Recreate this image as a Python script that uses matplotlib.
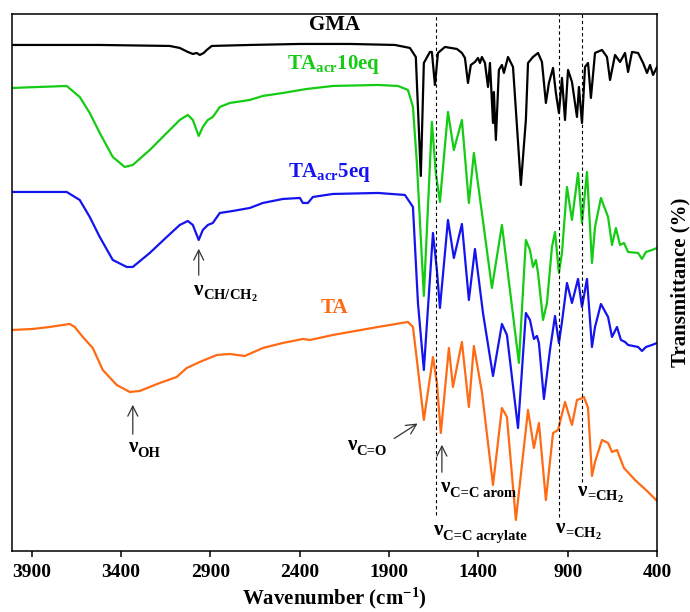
"""FTIR spectra of GMA, TA and the acrylated TA (5 and 10 eq), stacked with offsets."""
import matplotlib
matplotlib.use("Agg")
import matplotlib.pyplot as plt

plt.rcParams.update({
    "font.family": ["Liberation Serif", "DejaVu Serif"],
    "font.weight": "bold",
    "axes.labelweight": "bold",
    "mathtext.fontset": "custom",
    "mathtext.rm": "Liberation Serif:bold",
    "mathtext.it": "Liberation Serif:bold",
    "mathtext.bf": "Liberation Serif:bold",
    "axes.linewidth": 1.1,
})

# wavenumber (cm-1) / transmittance (offset, a.u.)
gma_wn = [4010, 3519, 3127, 3071, 3026, 2998, 2976, 2959, 2937, 2920, 2892, 2679, 2399, 2119,
          1867, 1783, 1750, 1722, 1705, 1671, 1660, 1643, 1626, 1587, 1520, 1492, 1475, 1458,
          1442, 1419, 1402, 1391, 1380, 1363, 1346, 1335, 1318, 1313, 1302, 1285, 1268, 1257,
          1234, 1206, 1162, 1134, 1122, 1094, 1066, 1044, 1022, 1005, 982, 966, 949, 932, 915,
          898, 876, 848, 837, 820, 803, 786, 770, 747, 708, 680, 663, 635, 607, 579, 562, 540,
          506, 478, 456, 439, 422, 400]
gma_t = [506, 506, 505, 503, 499, 497, 498, 496, 498, 501, 505, 506, 507, 507,
         506, 503, 494, 375, 488, 499, 499, 466, 498, 504, 502, 498, 493, 468,
         486, 489, 493, 488, 494, 488, 464, 488, 428, 459, 411, 481, 486, 478,
         494, 484, 366, 431, 488, 494, 498, 489, 448, 468, 483, 458, 438, 473, 431,
         481, 469, 434, 464, 428, 484, 488, 453, 498, 501, 494, 471, 496, 489, 498, 479, 499,
         498, 488, 478, 486, 476, 484]

acr10_wn = [4010, 3704, 3631, 3575, 3519, 3446, 3379, 3334, 3239, 3144, 3071, 3026, 2998, 2965,
            2942, 2914, 2886, 2847, 2791, 2679, 2606, 2494, 2360, 2214, 1962, 1850, 1794, 1766,
            1744, 1705, 1660, 1638, 1615, 1570, 1537, 1492, 1453, 1425, 1380, 1324, 1268, 1173,
            1134, 1111, 1094, 1078, 1066, 1038, 1016, 988, 971, 949, 932, 904, 876, 842, 820,
            792, 764, 747, 714, 674, 652, 630, 607, 585, 562, 506, 484, 462, 428, 400]
acr10_t = [463, 465, 454, 438, 418, 394, 384, 386, 401, 418, 431, 436, 431, 415,
           424, 431, 434, 444, 448, 451, 455, 458, 462, 465, 466, 465, 461, 444,
           388, 255, 429, 378, 349, 439, 401, 431, 348, 398, 338, 263, 326, 188,
           311, 301, 284, 291, 278, 231, 248, 304, 319, 278, 298, 364, 331, 378, 328,
           379, 288, 324, 353, 334, 306, 323, 306, 308, 299, 298, 292, 299, 301, 303]

acr5_wn = [4010, 3704, 3631, 3575, 3519, 3446, 3368, 3334, 3239, 3144, 3071, 3026, 2998, 2965,
           2942, 2914, 2886, 2847, 2774, 2679, 2606, 2494, 2399, 2382, 2354, 2326, 2214, 1962,
           1811, 1766, 1738, 1705, 1654, 1632, 1615, 1570, 1537, 1492, 1453, 1419, 1374, 1318,
           1268, 1240, 1178, 1134, 1111, 1089, 1072, 1061, 1033, 999, 971, 949, 932, 904, 876,
           842, 820, 792, 764, 747, 714, 674, 652, 624, 602, 579, 562, 506, 484, 462, 428, 400]
acr5_t = [359, 359, 351, 334, 314, 291, 284, 284, 298, 314, 326, 330, 326, 311,
          321, 326, 328, 338, 340, 343, 348, 352, 353, 348, 348, 354, 357, 358,
          356, 344, 248, 181, 318, 281, 243, 331, 293, 327, 251, 302, 238, 175,
          227, 216, 123, 238, 231, 212, 215, 208, 152, 201, 235, 208, 229, 268, 248,
          272, 244, 272, 204, 224, 247, 234, 214, 224, 211, 209, 206, 204, 200, 204, 206, 208]

ta_wn = [4010, 3894, 3799, 3687, 3659, 3614, 3558, 3502, 3424, 3351, 3295, 3183, 3088, 3032,
         2959, 2864, 2791, 2707, 2606, 2494, 2382, 2343, 2214, 1962, 1794, 1766, 1744, 1705,
         1654, 1632, 1610, 1565, 1542, 1492, 1453, 1425, 1380, 1318, 1268, 1240, 1190, 1122,
         1089, 1061, 1022, 982, 954, 915, 876, 848, 831, 809, 786, 764, 747, 708, 674, 652,
         624, 585, 523, 450, 400]
ta_t = [221, 222, 224, 227, 224, 214, 203, 181, 166, 159, 160, 168, 174, 183,
        189, 196, 197, 195, 203, 208, 212, 211, 216, 224, 229, 224, 191, 131,
        194, 168, 118, 203, 164, 209, 144, 205, 159, 66, 143, 134, 31, 141,
        103, 128, 51, 118, 121, 149, 126, 151, 152, 154, 143, 75, 89, 111, 108, 99,
        101, 83, 71, 59, 50]

series = [
    (gma_wn, gma_t, "black", "GMA", 2203, 526),
    (acr10_wn, acr10_t, "#14cc14", r"$TA_{acr}10eq$", 2209, 486),
    (acr5_wn, acr5_t, "#1414ee", r"$TA_{acr}5eq$", 2231, 378),
    (ta_wn, ta_t, "#ff6a14", "TA", 2203, 243),
]

# band assignments: (subscript, wavenumber of the nu, baseline height)
bands = [
    ("CH/CH$_2$", 2998, 256),
    ("OH", 3362, 99),
    ("C=O", 2136, 101),
    ("C=C arom", 1615, 59),
    ("C=C acrylate", 1654, 16),
    ("=CH$_2$", 971, 18),
    ("=CH$_2$", 848, 55),
]

# reference bands: (wavenumber, lower end of the dashed guide)
guides = [(1637, 36), (948, 34), (820, 69)]

fig = plt.figure(figsize=(6.9, 6.12), dpi=100)
ax = fig.add_axes([0.0174, 0.0997, 0.9348, 0.8775])

for wn, t, c, name, lx, ly in series:
    ax.plot(wn, t, color=c, lw=1.6, solid_joinstyle="round")
    ax.text(lx, ly, name, color=c, fontsize=15, fontweight="bold", ha="center", va="center")

for wn, ymin in guides:
    ax.plot([wn, wn], [ymin, 537], color="black", lw=0.8, ls=(0, (3, 2.5)))

arrow = dict(arrowstyle="->", color="#333333", lw=0.9, mutation_scale=18)
ax.annotate("", xy=(2965, 305), xytext=(2965, 273), arrowprops=arrow)
ax.annotate("", xy=(3334, 149), xytext=(3334, 114), arrowprops=arrow)
ax.annotate("", xy=(1727, 129), xytext=(1884, 111), arrowprops=arrow)
ax.annotate("", xy=(1604, 109), xytext=(1604, 76), arrowprops=arrow)

for sub, wn, base in bands:
    nu = ax.text(wn, base, "ν", fontsize=15, ha="left", va="baseline")
    ax.annotate(sub, xy=(1, base), xycoords=(nu, "data"), xytext=(0.3, -3.6),
                textcoords="offset points", fontsize=10.5, ha="left", va="baseline")

ax.set_xlim(4010, 400)
ax.set_ylim(0, 537)
ax.set_xticks([3900, 3400, 2900, 2400, 1900, 1400, 900, 400])
ax.set_yticks([])
ax.tick_params(axis="x", direction="out", length=4.5, width=1.1, labelsize=14, pad=5)
for lbl in ax.get_xticklabels():
    lbl.set_fontweight("bold")
ax.set_xlabel(r"Wavenumber (cm$^{-1}$)", fontsize=15, fontweight="bold", labelpad=3)
ax.yaxis.set_label_position("right")
ax.set_ylabel("Transmittance (%)", fontsize=15, fontweight="bold", labelpad=10)

fig.savefig("out.png", dpi=100)
